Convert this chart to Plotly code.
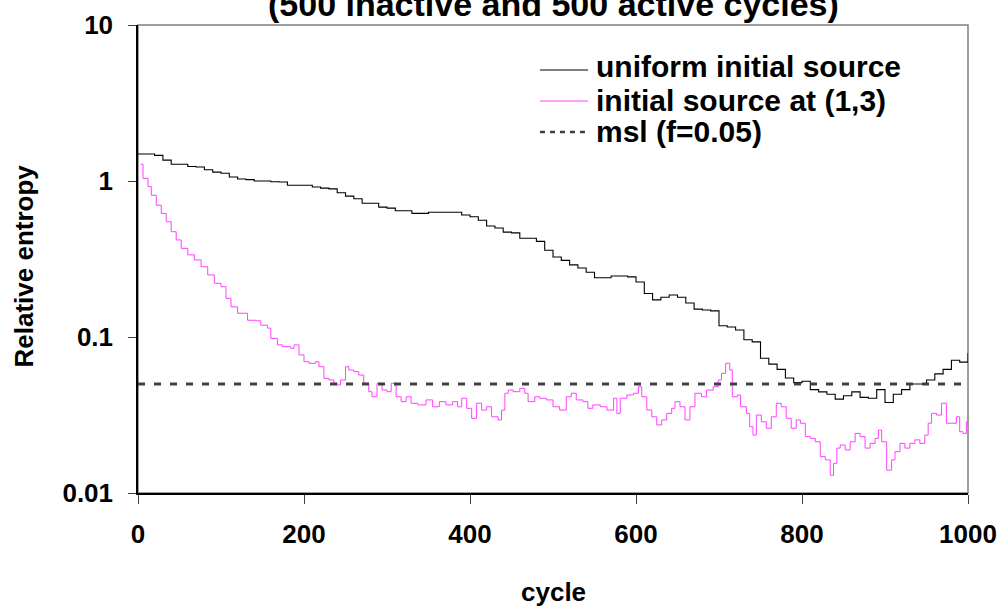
import plotly.graph_objects as go

# ---------------- data ----------------
black_cycles = list(range(0, 1001, 10))
black_values = [
    1.49, 1.49, 1.46, 1.36, 1.28, 1.28, 1.24, 1.23, 1.18, 1.14,
    1.12, 1.06, 1.03, 1.02, 1.00, 1.00, 0.99, 0.985, 0.94, 0.94,
    0.94, 0.915, 0.90, 0.89, 0.84, 0.80, 0.77, 0.72, 0.72, 0.68,
    0.67, 0.645, 0.645, 0.62, 0.62, 0.63, 0.63, 0.63, 0.63, 0.605,
    0.59, 0.56, 0.515, 0.50, 0.47, 0.465, 0.43, 0.43, 0.41, 0.36,
    0.326, 0.31, 0.29, 0.277, 0.26, 0.24, 0.24, 0.246, 0.246, 0.243,
    0.225, 0.19, 0.173, 0.18, 0.186, 0.18, 0.165, 0.151, 0.149, 0.147,
    0.118, 0.116, 0.111, 0.096, 0.093, 0.073, 0.067, 0.062, 0.0546, 0.051,
    0.052, 0.046, 0.0445, 0.043, 0.040, 0.042, 0.0445, 0.041, 0.0405, 0.046,
    0.038, 0.043, 0.046, 0.050, 0.050, 0.053, 0.058, 0.062, 0.071, 0.069,
    0.079,
]

magenta_cycles = [
    3, 6, 12, 16, 22, 28, 34, 40, 46, 52, 60, 68, 76, 84, 92, 100, 106, 112, 120,
    132, 142, 148, 156, 160, 168, 174, 184, 188, 194, 200, 206, 214, 218, 224,
    230, 236, 240, 244, 250, 254, 260, 266, 272, 278, 282, 288, 294, 300, 305,
    311, 317, 323, 329, 337, 347, 355, 363, 371, 379, 385, 390, 396, 402, 408,
    414, 420, 426, 434, 438, 442, 446, 452, 460, 466, 470, 478, 484, 492, 500,
    508, 516, 522, 528, 536, 542, 548, 557, 565, 573, 577, 581, 589, 597, 603,
    607, 613, 619, 625, 631, 637, 643, 647, 653, 659, 665, 671, 679, 685, 693,
    699, 703, 708, 713, 716, 722, 726, 733, 737, 741, 745, 751, 757, 763, 769,
    775, 781, 787, 793, 798, 804, 810, 816, 822, 828, 834, 838, 842, 846, 852,
    858, 864, 870, 876, 882, 888, 892, 896, 902, 908, 912, 918, 924, 930, 936,
    942, 948, 952, 956, 962, 968, 974, 980, 986, 990, 994, 998, 1000,
]
magenta_values = [
    1.28, 1.04, 0.92, 0.81, 0.70, 0.62, 0.548, 0.473, 0.419, 0.37, 0.336, 0.312,
    0.282, 0.25, 0.221, 0.21, 0.177, 0.156, 0.142,
    0.128, 0.127, 0.119, 0.114, 0.098, 0.089, 0.0867, 0.0847, 0.089, 0.0767,
    0.0695, 0.0678, 0.0695, 0.0645, 0.0543,
    0.053, 0.0505, 0.0492, 0.053, 0.0645, 0.0614, 0.060, 0.057, 0.0505, 0.0446,
    0.0414, 0.0505, 0.0457, 0.0446, 0.0505,
    0.0414, 0.0385, 0.0414, 0.0376, 0.0367, 0.0395, 0.0357, 0.0385, 0.0367,
    0.0385, 0.0357, 0.0405, 0.0349, 0.0301, 0.0376,
    0.034, 0.0357, 0.0308, 0.0294, 0.034, 0.0436, 0.0457, 0.0446, 0.0469,
    0.0436, 0.0385, 0.0414, 0.0405, 0.0395, 0.0357,
    0.034, 0.0414, 0.0436, 0.0395, 0.0385, 0.0349, 0.0367, 0.0357, 0.034,
    0.0405, 0.0324, 0.0405, 0.0425, 0.0436, 0.048,
    0.0414, 0.034, 0.0308, 0.0273, 0.0294, 0.0324, 0.0349, 0.0385, 0.0357,
    0.0294, 0.0357, 0.0436, 0.0414, 0.0457, 0.048,
    0.053, 0.0585, 0.0678, 0.0614, 0.0414, 0.0425, 0.0357, 0.0324, 0.0266,
    0.0235, 0.0316, 0.0286, 0.026, 0.0308, 0.0376,
    0.0357, 0.0301, 0.026, 0.0294, 0.028, 0.023, 0.0224, 0.0213, 0.0171,
    0.0163, 0.0130, 0.0155, 0.0194, 0.0203, 0.0189,
    0.0213, 0.0241, 0.023, 0.0194, 0.0208, 0.0224, 0.0253, 0.0213, 0.014,
    0.0163, 0.0184, 0.0208, 0.0194, 0.0208, 0.0219,
    0.0208, 0.0235, 0.028, 0.0324, 0.0316, 0.0376, 0.028, 0.028, 0.0308,
    0.0247, 0.0241, 0.0286, 0.029,
]

msl_value = 0.05
msl_cycles = [0, 1000]

series_names = ["uniform initial source", "initial source at (1,3)", "msl (f=0.05)"]
series_colors = ["#000000", "#FF40FF", "#404040"]
title_text = "(500 inactive and 500 active cycles)"
x_title = "cycle"
y_title = "Relative entropy"
x_ticks = [0, 200, 400, 600, 800, 1000]
y_ticks = [0.01, 0.1, 1, 10]
y_tick_labels = ["0.01", "0.1", "1", "10"]

FONT = "Liberation Sans, Arial, sans-serif"

fig = go.Figure()
fig.add_trace(go.Scatter(
    x=black_cycles, y=black_values, mode="lines", name=series_names[0],
    line=dict(color=series_colors[0], width=1.1, shape="hv"),
))
fig.add_trace(go.Scatter(
    x=magenta_cycles, y=magenta_values, mode="lines", name=series_names[1],
    line=dict(color=series_colors[1], width=1, shape="hv"),
))
fig.add_trace(go.Scatter(
    x=msl_cycles, y=[msl_value] * len(msl_cycles), mode="lines", name=series_names[2],
    line=dict(color=series_colors[2], width=3, dash="7px,9px"),
))

# hand-built legend (tight row spacing like the reference)
legend_rows_y = [0.9103, 0.8397, 0.7735]
legend_lines_y = [0.9038, 0.8376, 0.7714]
legend_line_styles = [
    dict(color="#000000", width=1.2),
    dict(color="#FF40FF", width=1.2),
    dict(color="#404040", width=2.5, dash="5px,5px"),
]

annotations = [
    dict(text="<b>" + title_text + "</b>", xref="paper", yref="paper",
         x=0.5, y=1.0, xanchor="center", yanchor="bottom", showarrow=False,
         font=dict(family=FONT, size=34, color="black")),
    dict(text="<b>" + x_title + "</b>", xref="paper", yref="paper",
         x=0.5, y=-0.2115, xanchor="center", yanchor="middle", showarrow=False,
         font=dict(family=FONT, size=26, color="black")),
    dict(text="<b>" + y_title + "</b>", xref="paper", yref="paper",
         x=-0.1373, y=0.484, xanchor="center", yanchor="middle", showarrow=False,
         textangle=-90, font=dict(family=FONT, size=26, color="black")),
]
shapes = [
    dict(type="rect", xref="paper", yref="paper", x0=0, y0=0, x1=1, y1=1,
         line=dict(color="#808080", width=1.5), layer="below"),
]
for name, ty, ly, ls in zip(series_names, legend_rows_y, legend_lines_y, legend_line_styles):
    annotations.append(dict(
        text="<b>" + name + "</b>", xref="paper", yref="paper",
        x=0.549, y=ty, xanchor="left", yanchor="middle", showarrow=False,
        font=dict(family=FONT, size=30, color="black")))
    shapes.append(dict(type="line", xref="paper", yref="paper",
                       x0=0.4843, x1=0.5422, y0=ly, y1=ly, line=ls))

fig.update_layout(
    width=1005, height=608,
    margin=dict(l=138, r=37, t=25, b=115, autoexpand=False),
    paper_bgcolor="white", plot_bgcolor="white",
    font=dict(family=FONT, color="black"),
    showlegend=False,
    annotations=annotations,
    shapes=shapes,
)

fig.update_xaxes(
    range=[0, 1000], tickvals=x_ticks, ticktext=[str(v) for v in x_ticks],
    ticks="outside", ticklen=9, tickwidth=1, tickcolor="#404040",
    showline=True, linecolor="black", linewidth=2, mirror=False,
    showgrid=False, zeroline=False, automargin=False,
    tickfont=dict(family=FONT, size=26, color="black", weight="bold"),
    ticklabelstandoff=8,
)
fig.update_yaxes(
    type="log", range=[-2, 1], tickvals=y_ticks, ticktext=y_tick_labels,
    ticks="outside", ticklen=8, tickwidth=1, tickcolor="#404040",
    showline=True, linecolor="black", linewidth=1.5, mirror=False,
    showgrid=False, zeroline=False, automargin=False,
    tickfont=dict(family=FONT, size=26, color="black", weight="bold"),
    ticklabelstandoff=10,
)

fig.write_html(
    "out.html",
    config={"displayModeBar": False},
    post_script="document.body.style.margin='0';document.body.style.overflow='hidden';",
)
